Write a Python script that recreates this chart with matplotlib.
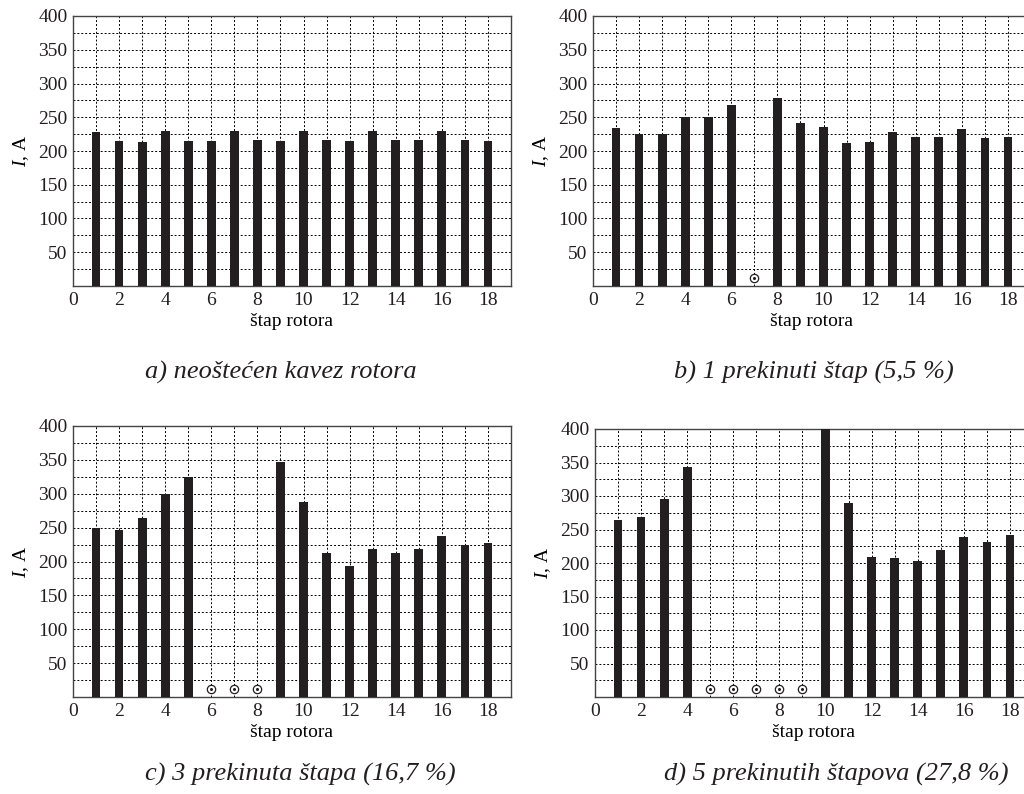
import numpy as np
import matplotlib
matplotlib.use("Agg")
import matplotlib.pyplot as plt
from matplotlib.ticker import MultipleLocator

plt.rcParams['font.family'] = ['Liberation Serif', 'DejaVu Serif']
plt.rcParams['mathtext.fontset'] = 'custom'
plt.rcParams['mathtext.it'] = 'Liberation Serif:italic'
plt.rcParams['mathtext.rm'] = 'Liberation Serif'

# bar number 1..18, None = broken bar (drawn as small circle)
bars = np.arange(1, 19)

I_a = [228, 215, 213, 230, 215, 215, 230, 216, 215, 230, 216, 215, 230, 216, 216, 230, 216, 215]
I_b = [234, 225, 225, 250, 250, 268, None, 279, 241, 236, 212, 213, 228, 221, 221, 233, 219, 221]
I_c = [250, 246, 264, 300, 325, None, None, None, 347, 288, 213, 193, 218, 213, 218, 237, 225, 227]
I_d = [264, 269, 296, 344, None, None, None, None, None, 405, 289, 209, 208, 203, 220, 239, 232, 242]

captions = ["a) neoštećen kavez rotora",
            "b) 1 prekinuti štap (5,5 %)",
            "c) 3 prekinuta štapa (16,7 %)",
            "d) 5 prekinutih štapova (27,8 %)"]

W, H = 1024, 794
fig = plt.figure(figsize=(W / 100, H / 100), dpi=100)

# axes boxes in pixels: left, top, width, height (right column runs off the page)
boxes = [(73, 16, 438, 270), (593, 16, 438, 270),
         (73, 426, 438, 271), (595, 429, 438, 268)]
cap_pos = [(281, 372), (814, 372), (300, 774), (836, 774)]

for vals, box, cap, cp in zip([I_a, I_b, I_c, I_d], boxes, captions, cap_pos):
    l, t, w, h = box
    ax = fig.add_axes([l / W, 1 - (t + h) / H, w / W, h / H])
    y = np.array([np.nan if v is None else v for v in vals], dtype=float)
    ax.bar(bars, y, width=0.38, color='#231f20', zorder=3)
    broken = np.isnan(y)
    ax.plot(bars[broken], np.full(broken.sum(), 12), 'o', mfc='white', mec='#231f20',
            ms=6, mew=0.9, zorder=4, clip_on=False)
    ax.plot(bars[broken], np.full(broken.sum(), 12), 'o', color='#231f20', ms=1.2, zorder=5)
    ax.set_xlim(0, 19)
    ax.set_ylim(0, 400)
    ax.xaxis.set_major_locator(MultipleLocator(2))
    ax.xaxis.set_minor_locator(MultipleLocator(1))
    ax.yaxis.set_major_locator(MultipleLocator(50))
    ax.yaxis.set_minor_locator(MultipleLocator(25))
    ax.grid(which='both', color='black', linestyle=(0, (2, 2)), linewidth=0.7, zorder=1)
    ax.tick_params(which='both', length=0, labelsize=14, colors='#231f20', pad=4)
    ax.set_yticks(np.arange(50, 401, 50))
    for s in ax.spines.values():
        s.set_color('#444444')
        s.set_linewidth(1.0)
    ax.set_ylabel('$I$, A', fontsize=14, labelpad=5)
    ax.set_xlabel('štap rotora', fontsize=14, labelpad=3)
    fig.text(cp[0] / W, 1 - cp[1] / H, cap, ha='center', va='center',
             fontsize=19, style='italic', color='#231f20')

plt.savefig('out.png', dpi=100)
